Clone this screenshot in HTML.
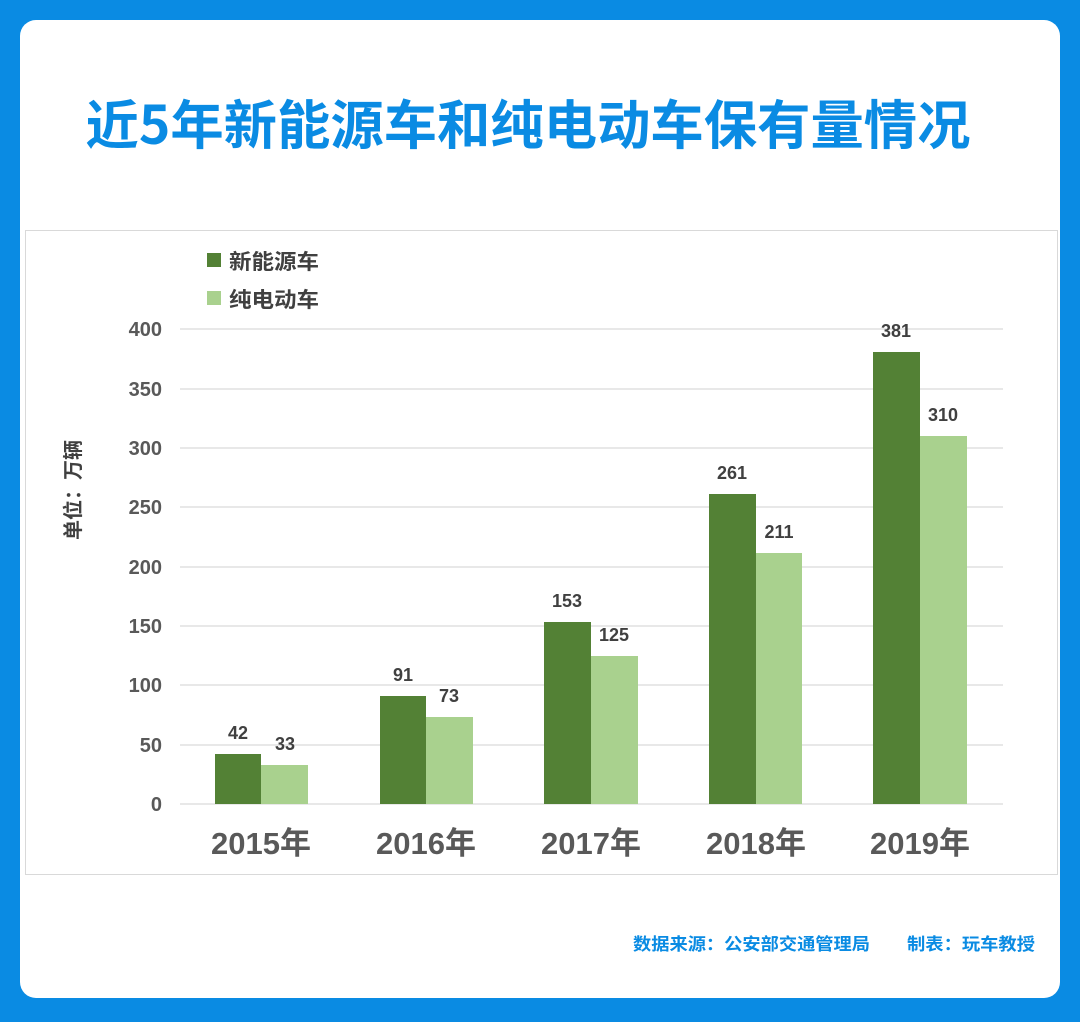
<!DOCTYPE html>
<html><head><meta charset="utf-8"><style>
body{margin:0;width:1080px;height:1022px;background:#0a8be3;overflow:hidden}
svg{display:block}
</style></head><body>
<svg width="1080" height="1022" xmlns="http://www.w3.org/2000/svg" font-family="Liberation Sans, Noto Sans CJK SC, sans-serif">
<rect x="0" y="0" width="1080" height="1022" fill="#0a8be3"/>
<rect x="20" y="20" width="1040" height="978" rx="16" fill="#fff"/>
<text x="528" y="144" text-anchor="middle" font-size="53" font-weight="bold" fill="#0a8be3" font-family="Noto Sans CJK SC, sans-serif" textLength="885" lengthAdjust="spacingAndGlyphs">近5年新能源车和纯电动车保有量情况</text>
<rect x="25.5" y="230.5" width="1032" height="644" fill="none" stroke="#d9d9d9"/>
<rect x="207" y="253" width="14" height="14" fill="#538135"/>
<text x="229" y="269" font-size="21" font-weight="bold" fill="#404040" font-family="Noto Sans CJK SC, sans-serif" textLength="90" lengthAdjust="spacingAndGlyphs">新能源车</text>
<rect x="207" y="291" width="14" height="14" fill="#a9d18e"/>
<text x="229" y="307" font-size="21" font-weight="bold" fill="#404040" font-family="Noto Sans CJK SC, sans-serif" textLength="90" lengthAdjust="spacingAndGlyphs">纯电动车</text>
<g stroke="#d9d9d9" stroke-width="1.2">
<line x1="180" x2="1003" y1="329" y2="329"/><line x1="180" x2="1003" y1="389" y2="389"/><line x1="180" x2="1003" y1="448" y2="448"/><line x1="180" x2="1003" y1="507" y2="507"/><line x1="180" x2="1003" y1="567" y2="567"/><line x1="180" x2="1003" y1="626" y2="626"/><line x1="180" x2="1003" y1="685" y2="685"/><line x1="180" x2="1003" y1="745" y2="745"/><line x1="180" x2="1003" y1="804" y2="804"/>
</g>
<g font-size="20" font-weight="bold" fill="#595959" text-anchor="end">
<text x="162" y="336">400</text><text x="162" y="396">350</text><text x="162" y="455">300</text><text x="162" y="514">250</text><text x="162" y="574">200</text><text x="162" y="633">150</text><text x="162" y="692">100</text><text x="162" y="752">50</text><text x="162" y="811">0</text>
</g>
<text transform="translate(80,490) rotate(-90)" text-anchor="middle" font-size="20" font-weight="bold" fill="#404040" font-family="Noto Sans CJK SC, sans-serif">单位：万辆</text>
<g fill="#538135">
<rect x="215" y="754" width="46" height="50"/><rect x="380" y="696" width="46" height="108"/><rect x="544" y="622" width="47" height="182"/><rect x="709" y="494" width="47" height="310"/><rect x="873" y="352" width="47" height="452"/>
</g>
<g fill="#a9d18e">
<rect x="261" y="765" width="47" height="39"/><rect x="426" y="717" width="47" height="87"/><rect x="591" y="656" width="47" height="148"/><rect x="756" y="553" width="46" height="251"/><rect x="920" y="436" width="47" height="368"/>
</g>
<g font-size="18" font-weight="bold" fill="#404040" text-anchor="middle">
<text x="238" y="739">42</text><text x="285" y="750">33</text>
<text x="403" y="681">91</text><text x="449" y="702">73</text>
<text x="567" y="607">153</text><text x="614" y="641">125</text>
<text x="732" y="479">261</text><text x="779" y="538">211</text>
<text x="896" y="337">381</text><text x="943" y="421">310</text>
</g>
<g font-size="31" font-weight="bold" fill="#595959" text-anchor="middle" font-family="Liberation Sans, Noto Sans CJK SC, sans-serif">
<text x="261" y="854">2015年</text><text x="426" y="854">2016年</text><text x="591" y="854">2017年</text><text x="756" y="854">2018年</text><text x="920" y="854">2019年</text>
</g>
<text x="633" y="950" font-size="17" font-weight="bold" fill="#0a8be3" font-family="Noto Sans CJK SC, sans-serif" textLength="237" lengthAdjust="spacingAndGlyphs">数据来源：公安部交通管理局</text>
<text x="907" y="950" font-size="17" font-weight="bold" fill="#0a8be3" font-family="Noto Sans CJK SC, sans-serif" textLength="128" lengthAdjust="spacingAndGlyphs">制表：玩车教授</text>
</svg>
</body></html>
